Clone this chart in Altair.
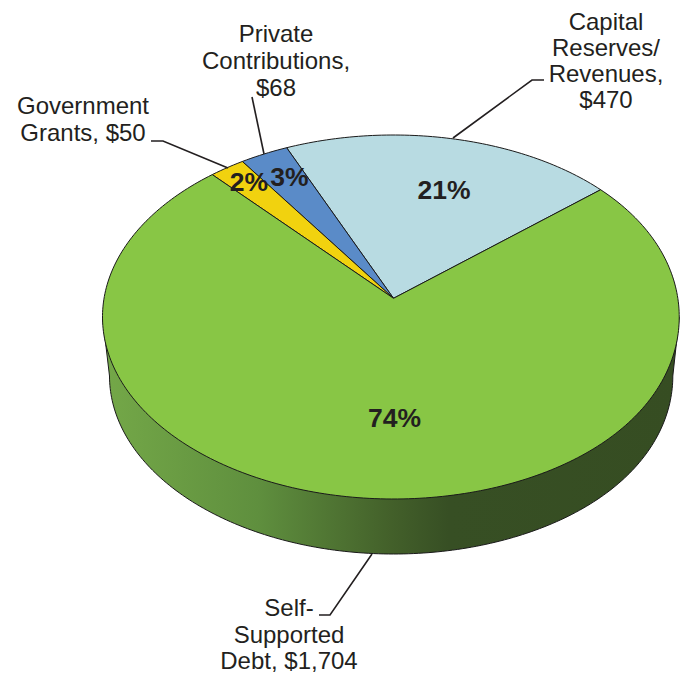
import math
import altair as alt
import pandas as pd

# ---- chart values ----
categories = ["Capital Reserves/ Revenues", "Private Contributions", "Government Grants", "Self-Supported Debt"]
values = [470, 68, 50, 1704]
percent_labels = ["21%", "3%", "2%", "74%"]
slice_colors = ["#b8dbe2", "#5a8bc8", "#f1d20f", "#88c645"]
callout_lines = [
    ["Capital", "Reserves/", "Revenues,", "$470"],
    ["Private", "Contributions,", "$68"],
    ["Government", "Grants, $50"],
    ["Self-", "Supported", "Debt, $1,704"],
]

# ---- layout (pixels of the picture) ----
CX, CY, RX, RY = 393.5, 317.0, 291.0, 182.0
APEX_Y = 298.3
BX, BY, BRX, BRY = 393.5, 376.0, 284.0, 178.0
START_DEG = 50.0
INK = "#231f20"
callout_x = [606, 276, 83, 289]
callout_baselines = [[30, 55.5, 81.5, 108], [42, 69, 96], [114, 141], [616, 643, 668.5]]
percent_pos = [(444, 199), (289.5, 186), (249, 191), (394.5, 427)]
leaders = [
    [(544, 80), (532, 80), (453, 138)],
    [(252, 97), (264, 154)],
    [(151, 141), (163, 141), (228, 168)],
    [(319, 615), (330, 615), (372, 554)],
]

W, H = 672, 664
x_scale = alt.Scale(domain=[8, 8 + W], nice=False, zero=False)
y_scale = alt.Scale(domain=[8, 8 + H], reverse=True, nice=False, zero=False)
X = lambda f: alt.X(f, type="quantitative", scale=x_scale, axis=None)
Y = lambda f: alt.Y(f, type="quantitative", scale=y_scale, axis=None)

k = (APEX_Y - CY) / RY


def squeeze(x):
    # the far right of the disc has to stay inside the drawing area
    return x - 5.3 * ((x - 500) / 185) ** 3 if x > 500 else x


def rim(theta_deg):
    t = math.radians(theta_deg)
    x0, y0 = math.sin(t), -math.cos(t)
    d = 1 + k * y0
    return squeeze(CX + RX * x0 * math.sqrt(1 - k * k) / d), CY + RY * (y0 + k) / d


def outline(points, fill, stroke_width=1.0):
    df = pd.DataFrame(points, columns=["x", "y"])
    df["i"] = range(len(df))
    return (
        alt.Chart(df)
        .mark_line(fill=fill, stroke="#1a1a1a", strokeWidth=stroke_width, strokeJoin="round")
        .encode(x=X("x"), y=Y("y"), order=alt.Order("i:Q"))
    )


# side wall
side_pts = [(CX - RX, CY)]
for d in range(180, -1, -1):
    t = math.radians(d)
    side_pts.append((squeeze(BX + BRX * math.cos(t)), BY + BRY * math.sin(t)))
side_pts.append((squeeze(CX + RX), CY))
side_pts.append(side_pts[0])
side_fill = alt.Gradient(
    gradient="linear", x1=0, y1=0, x2=1, y2=0,
    stops=[
        alt.GradientStop(color="#74a848", offset=0),
        alt.GradientStop(color="#5f8f3e", offset=0.27),
        alt.GradientStop(color="#43602a", offset=0.5),
        alt.GradientStop(color="#374f24", offset=0.6),
        alt.GradientStop(color="#364d22", offset=1),
    ],
)
layers = [outline(side_pts, side_fill)]

# top slices, counter-clockwise from the start angle
total = sum(values)
angle = START_DEG
for value, color in zip(values, slice_colors):
    span = 360.0 * value / total
    n = max(4, int(span))
    arc = [rim(angle - span * j / n) for j in range(n + 1)]
    pts = [(CX, APEX_Y)] + arc + [(CX, APEX_Y)]
    layers.append(outline(pts, color))
    angle -= span

# leader lines
for path in leaders:
    df = pd.DataFrame(path, columns=["x", "y"])
    df["i"] = range(len(df))
    layers.append(
        alt.Chart(df).mark_line(color=INK, strokeWidth=1.6).encode(x=X("x"), y=Y("y"), order=alt.Order("i:Q"))
    )

# callout text
rows = []
for lines, tx, ys in zip(callout_lines, callout_x, callout_baselines):
    for line, ty in zip(lines, ys):
        rows.append({"x": tx, "y": ty, "t": line})
layers.append(
    alt.Chart(pd.DataFrame(rows))
    .mark_text(font="Liberation Sans", fontSize=24, color=INK, align="center", baseline="alphabetic")
    .encode(x=X("x"), y=Y("y"), text="t:N")
)

# percent labels
pct = pd.DataFrame(
    [{"x": p[0], "y": p[1], "t": t} for p, t in zip(percent_pos, percent_labels)]
)
layers.append(
    alt.Chart(pct)
    .mark_text(font="Liberation Sans", fontSize=26.5, fontWeight="bold", color=INK, align="center", baseline="alphabetic")
    .encode(x=X("x"), y=Y("y"), text="t:N")
)

chart = (
    alt.layer(*layers)
    .properties(width=W, height=H, padding=0, autosize=alt.AutoSizeParams(type="none"), background="white")
    .configure_view(stroke=None)
)
chart.save("out.html", embed_options={"renderer": "svg", "actions": False})
